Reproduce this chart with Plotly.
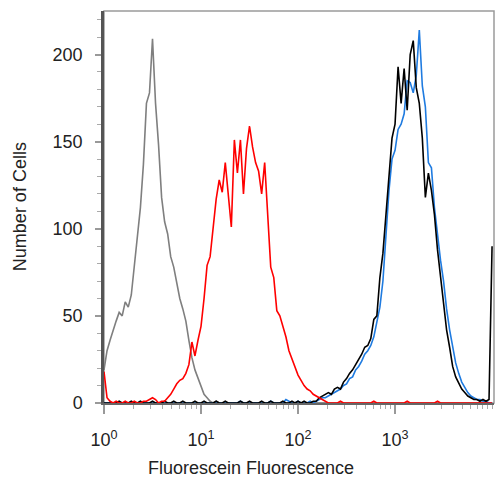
import plotly.graph_objects as go

# Histogram bins: 4-decade log scale, 32 bins per decade (bin k sits at 10**(k/32))
bins_per_decade = 32
n_bins = 129

gray_counts = [
    19, 30, 36, 42, 47, 52, 50, 58, 55, 62, 78, 94, 112, 137, 172, 178,
    209, 172, 148, 118, 104, 97, 84, 78, 69, 60, 54, 47, 36, 26, 19, 14,
    9, 5, 3, 1, 0, 1, 0, 0, 0, 0, 0, 0, 0, 0, 0, 0,
    0, 0, 0, 0, 0, 0, 0, 0, 0, 0, 0, 0, 0, 0, 0, 0,
    0, 0, 0, 0, 0, 0, 0, 0, 0, 0, 0, 0, 0, 0, 0, 0,
    0, 0, 0, 0, 0, 0, 0, 0, 0, 0, 0, 0, 0, 0, 0, 0,
    0, 0, 0, 0, 0, 0, 0, 0, 0, 0, 0, 0, 0, 0, 0, 0,
    0, 0, 0, 0, 0, 0, 0, 0, 0, 0, 0, 0, 0, 0, 0, 0,
    0,
]

red_counts = [
    18, 3, 1, 0, 1, 0, 0, 1, 0, 0, 1, 0, 0, 1, 1, 2,
    3, 2, 0, 1, 1, 3, 5, 8, 11, 13, 14, 17, 22, 35, 27, 36,
    44, 60, 79, 84, 102, 117, 128, 121, 138, 118, 101, 151, 132, 151, 120, 146,
    159, 147, 138, 133, 120, 138, 104, 78, 72, 53, 50, 44, 38, 30, 25, 20,
    16, 13, 10, 8, 7, 5, 4, 3, 2, 1, 0, 0, 0, 0, 1, 0,
    0, 0, 0, 0, 0, 0, 0, 0, 0, 1, 0, 0, 0, 0, 0, 0,
    0, 0, 0, 0, 1, 0, 0, 0, 0, 0, 0, 0, 0, 0, 1, 0,
    0, 0, 0, 0, 0, 0, 0, 0, 0, 0, 0, 0, 0, 0, 0, 0,
    0,
]

blue_counts = [
    0, 0, 0, 0, 0, 0, 0, 0, 0, 0, 0, 0, 0, 0, 0, 0,
    0, 0, 0, 0, 0, 0, 0, 0, 0, 0, 0, 0, 0, 0, 0, 0,
    0, 0, 0, 0, 0, 0, 0, 0, 0, 0, 0, 0, 0, 1, 0, 0,
    0, 0, 0, 0, 0, 0, 0, 1, 0, 0, 0, 0, 2, 1, 0, 0,
    1, 0, 0, 0, 1, 0, 1, 2, 3, 3, 4, 5, 6, 7, 8, 10,
    11, 14, 15, 19, 21, 24, 28, 30, 33, 38, 46, 55, 70, 97, 122, 140,
    145, 157, 160, 166, 185, 184, 178, 188, 214, 182, 170, 138, 135, 112, 95, 82,
    70, 54, 42, 32, 23, 17, 12, 9, 6, 4, 3, 2, 2, 1, 1, 0,
    0,
]

black_counts = [
    0, 0, 0, 0, 0, 1, 0, 0, 0, 1, 0, 0, 1, 0, 0, 0,
    1, 0, 0, 0, 1, 0, 0, 1, 0, 0, 1, 0, 0, 0, 1, 0,
    0, 1, 0, 0, 0, 1, 0, 0, 1, 0, 0, 0, 0, 1, 0, 0,
    1, 0, 0, 0, 1, 0, 0, 1, 0, 0, 0, 1, 0, 0, 1, 0,
    1, 0, 1, 0, 0, 1, 1, 3, 4, 5, 6, 5, 8, 9, 8, 12,
    14, 17, 19, 22, 25, 28, 32, 33, 37, 48, 50, 72, 86, 108, 130, 152,
    160, 193, 172, 192, 168, 200, 208, 181, 172, 152, 118, 132, 122, 108, 88, 72,
    55, 42, 32, 21, 15, 11, 8, 6, 4, 3, 2, 2, 1, 2, 1, 2,
    90,
]

x_tick_values = [1, 10, 100, 1000]
x_tick_labels = ["10<sup>0</sup>", "10<sup>1</sup>", "10<sup>2</sup>", "10<sup>3</sup>"]
y_tick_values = [0, 50, 100, 150, 200]

x_title = "Fluorescein Fluorescence"
y_title = "Number of Cells"

fluor = [10 ** (k / bins_per_decade) for k in range(n_bins)]

series = [
    ("gray", gray_counts, "#7f7f7f"),
    ("blue", blue_counts, "#1f7be0"),
    ("black", black_counts, "#000000"),
    ("red", red_counts, "#ff0000"),
]

fig = go.Figure()
for name, counts, color in series:
    fig.add_trace(go.Scatter(
        x=fluor, y=counts, mode="lines", name=name,
        line=dict(color=color, width=1.6),
        showlegend=False, hoverinfo="skip", cliponaxis=False,
    ))

font_family = "Liberation Sans, Arial, sans-serif"

fig.update_layout(
    width=495, height=478,
    margin=dict(l=104, r=1, t=11, b=75),
    paper_bgcolor="white", plot_bgcolor="white",
    font=dict(family=font_family, size=17, color="#222222"),
    shapes=[dict(type="rect", xref="paper", yref="paper", x0=0, y0=0, x1=1, y1=1,
                 line=dict(color="#9a9a9a", width=1.5), layer="below")],
    annotations=[
        dict(text=x_title, xref="paper", yref="paper", x=0.377, y=-0.165,
             xanchor="center", yanchor="middle", showarrow=False,
             font=dict(size=18, color="#222222")),
        dict(text=y_title, xref="paper", yref="paper", x=-0.215, y=0.5,
             xanchor="center", yanchor="middle", showarrow=False, textangle=-90,
             font=dict(size=18, color="#222222")),
    ],
)

fig.update_xaxes(
    type="log", range=[0, 4.02],
    tickvals=x_tick_values, ticktext=x_tick_labels,
    ticks="outside", ticklen=9, tickwidth=1.5, tickcolor="#999999",
    minor=dict(ticks="outside", ticklen=4, tickwidth=1, tickcolor="#aaaaaa", dtick="D1"),
    showline=True, linecolor="#666666", linewidth=1.5,
    showgrid=False, zeroline=False, tickfont=dict(size=18),
    ticklabelstandoff=11,
)
fig.update_yaxes(
    range=[0, 225],
    tickvals=y_tick_values,
    ticks="outside", ticklen=6, tickwidth=1.5, tickcolor="#999999",
    minor=dict(ticks="outside", ticklen=4, tickwidth=1, tickcolor="#aaaaaa", dtick=10),
    showline=True, linecolor="#555555", linewidth=2.5,
    showgrid=False, zeroline=False, tickfont=dict(size=18),
    ticklabelstandoff=9,
)

fig.write_html("out.html", config={"displayModeBar": False},
               post_script="document.body.style.margin='0';")
